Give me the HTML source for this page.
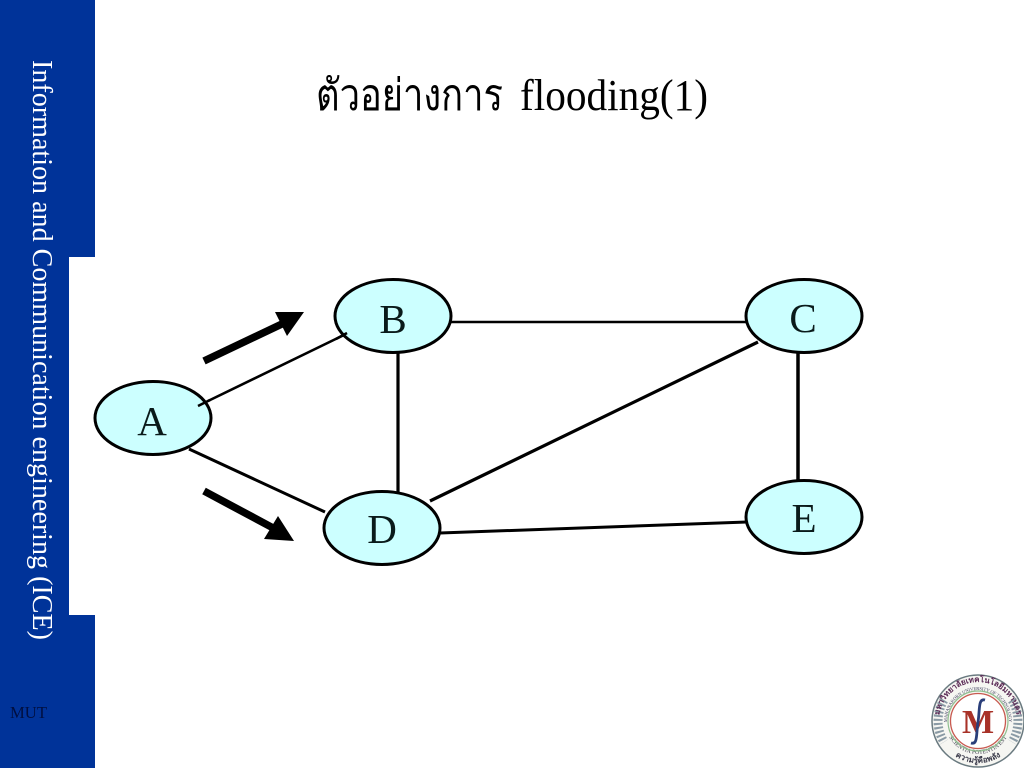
<!DOCTYPE html>
<html>
<head>
<meta charset="utf-8">
<style>
html,body{margin:0;padding:0;background:#fff;}
body{width:1024px;height:768px;overflow:hidden;position:relative;}
svg{position:absolute;left:0;top:0;}
text{font-family:"Liberation Serif",serif;}
</style>
</head>
<body>
<svg width="1024" height="768" viewBox="0 0 1024 768" xmlns="http://www.w3.org/2000/svg">
<rect x="0" y="0" width="95" height="768" fill="#003399"/>
<rect x="69" y="257" width="26" height="358" fill="#fff"/>
<text transform="translate(33,60) rotate(90)" font-size="29" fill="#fff" textLength="580" lengthAdjust="spacingAndGlyphs">Information and Communication engineering (ICE)</text>
<text x="10" y="718" font-size="16.5" fill="#000f40" textLength="37" lengthAdjust="spacingAndGlyphs">MUT</text>

<text x="316" y="110" font-size="44" fill="#000" style="font-family:'Liberation Serif','Noto Serif CJK SC','Noto Sans CJK SC','DejaVu Sans',serif" textLength="187" lengthAdjust="spacingAndGlyphs">ตัวอย่างการ</text>
<text x="520" y="110" font-size="44" fill="#000" textLength="188" lengthAdjust="spacingAndGlyphs">flooding(1)</text>

<g stroke="#000" fill="none">
<line x1="189" y1="449" x2="325" y2="512" stroke-width="3"/>
<line x1="398" y1="352" x2="398" y2="492" stroke-width="3.2"/>
<line x1="450" y1="322" x2="747" y2="322" stroke-width="2.5"/>
<line x1="430" y1="501" x2="758" y2="342" stroke-width="3.2"/>
<line x1="440" y1="533" x2="747" y2="522" stroke-width="3"/>
<line x1="798" y1="352" x2="798" y2="481" stroke-width="3.5"/>
<line x1="346" y1="334" x2="208" y2="401" stroke-width="2.6"/>
</g>
<g stroke="#000" stroke-width="3" fill="#ccffff">
<ellipse cx="153" cy="418" rx="58" ry="36.5"/>
<ellipse cx="393" cy="316" rx="58" ry="36.5"/>
<ellipse cx="382" cy="528" rx="58" ry="36.5"/>
<ellipse cx="804" cy="316" rx="58" ry="36.5"/>
<ellipse cx="804" cy="517" rx="58" ry="36.5"/>
</g>
<line x1="198" y1="406" x2="210" y2="400" stroke="#000" stroke-width="2.6"/>
<line x1="336" y1="339" x2="347" y2="333" stroke="#000" stroke-width="2.6"/>
<g font-size="41" fill="#0a1a1a" text-anchor="middle">
<text x="152" y="435">A</text>
<text x="393" y="333">B</text>
<text x="382" y="543">D</text>
<text x="803" y="332">C</text>
<text x="804" y="532">E</text>
</g>
<line x1="204" y1="361" x2="284" y2="323" stroke="#000" stroke-width="7.5"/>
<polygon points="304,312 275,312 287,336" fill="#000"/>
<line x1="204" y1="491" x2="275" y2="529" stroke="#000" stroke-width="7.5"/>
<polygon points="294,541 264,539 278,516" fill="#000"/>

<g>
<circle cx="978" cy="721" r="46" fill="#f6f6f2" stroke="#6a7a80" stroke-width="1.5"/>
<path d="M944 700 A40 40 0 0 0 944 742" fill="none" stroke="#8a9aa5" stroke-width="9" stroke-dasharray="2 2"/>
<path d="M1012 700 A40 40 0 0 1 1012 742" fill="none" stroke="#8a9aa5" stroke-width="9" stroke-dasharray="2 2"/>
<defs>
<path id="a1" d="M939 721 A39 39 0 0 1 1017 721"/>
<path id="a2" d="M947 721 A31 31 0 0 1 1009 721"/>
<path id="a3" d="M945 721 A33 33 0 0 0 1011 721"/>
<path id="a4" d="M936 721 A42 42 0 0 0 1020 721"/>
</defs>
<text font-size="8" fill="#5a2a55" font-weight="bold" style="font-family:'Liberation Sans','Noto Sans CJK SC',sans-serif"><textPath href="#a1" startOffset="50%" text-anchor="middle">มหาวิทยาลัยเทคโนโลยีมหานคร</textPath></text>
<text font-size="4.5" fill="#3a3a5a"><textPath href="#a2" startOffset="50%" text-anchor="middle">MAHANAKORN UNIVERSITY OF TECHNOLOGY</textPath></text>
<text font-size="6" fill="#3a3a4a"><textPath href="#a3" startOffset="50%" text-anchor="middle">SCIENTIA POTENTIA EST</textPath></text>
<text font-size="8" fill="#3a3a4a" font-weight="bold" style="font-family:'Liberation Sans','Noto Sans CJK SC',sans-serif"><textPath href="#a4" startOffset="50%" text-anchor="middle">ความรู้คือพลัง</textPath></text>
<circle cx="978" cy="721" r="30" fill="none" stroke="#8fbf8f" stroke-width="1.2"/>
<circle cx="978" cy="721" r="27.5" fill="#fff" stroke="#c85a50" stroke-width="1.3"/>
<text x="978" y="733" font-size="34" font-weight="bold" fill="#a83228" text-anchor="middle">M</text>
<path d="M985 700 C978 698 980 710 978 722 C976 734 978 745 971 743" fill="none" stroke="#2a3f7a" stroke-width="2.8"/>
</g>
</svg>
</body>
</html>
